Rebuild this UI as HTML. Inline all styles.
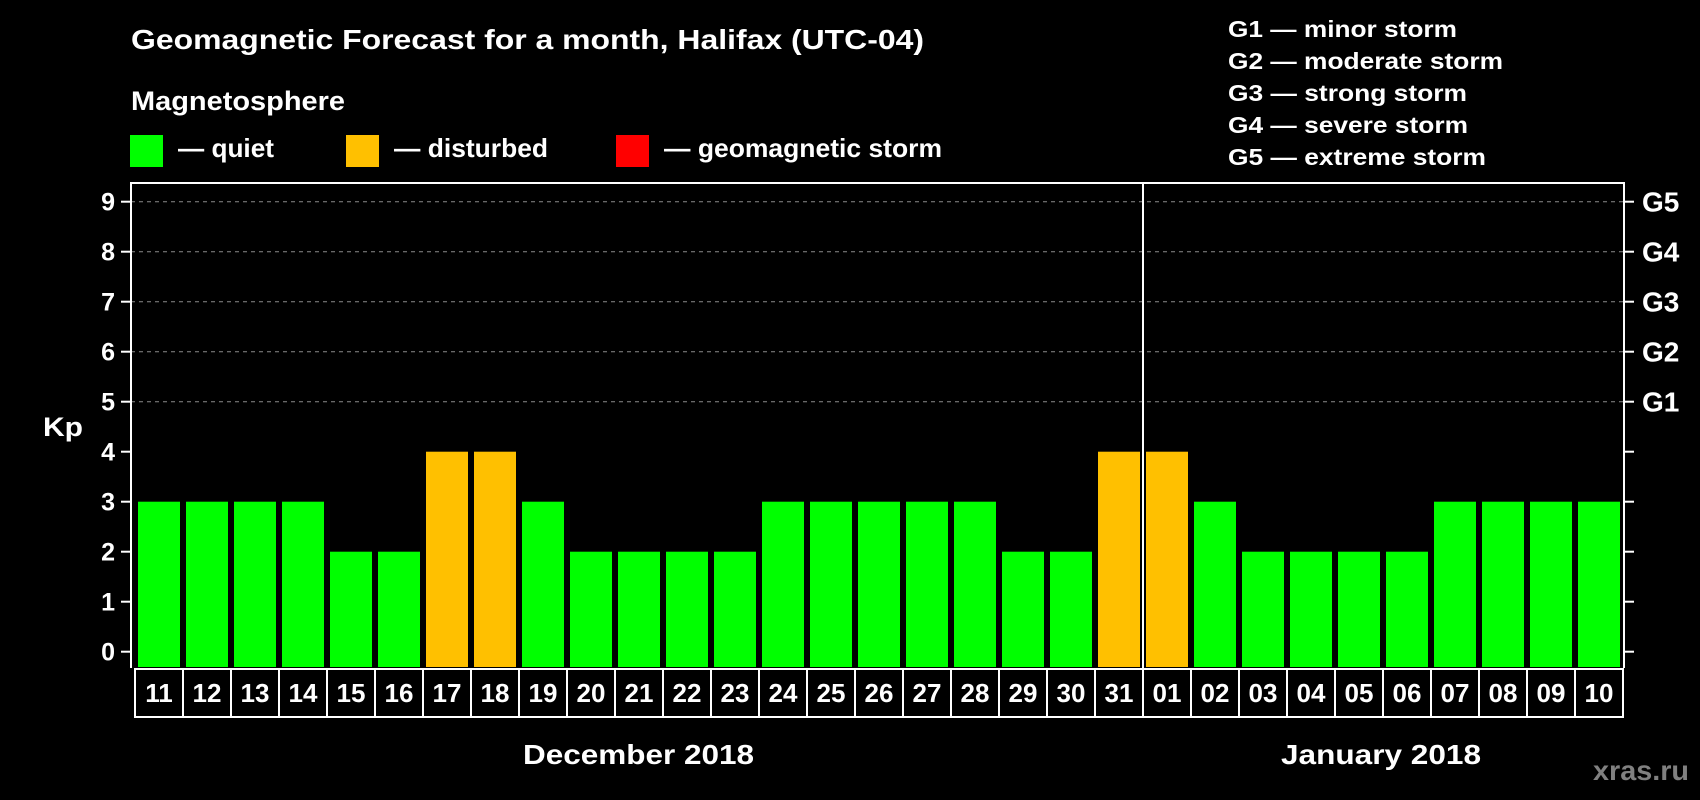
<!DOCTYPE html>
<html><head><meta charset="utf-8"><style>
html,body{margin:0;padding:0;background:#000;}
svg{display:block;font-family:"Liberation Sans",Arial,sans-serif;font-weight:bold;}
</style></head><body>
<svg id="chart" width="1700" height="800" viewBox="0 0 1700 800" xmlns="http://www.w3.org/2000/svg">
<rect x="0" y="0" width="1700" height="800" fill="#000"/>
<text x="131" y="49" font-size="28" fill="#fff" textLength="793" lengthAdjust="spacingAndGlyphs">Geomagnetic Forecast for a month, Halifax (UTC-04)</text>
<text x="131" y="110" font-size="27" fill="#fff" textLength="214" lengthAdjust="spacingAndGlyphs">Magnetosphere</text>
<g>
<rect x="130" y="135" width="33" height="32" fill="#00ff00"/>
<text x="178" y="157" font-size="26" fill="#fff" textLength="96" lengthAdjust="spacingAndGlyphs">— quiet</text>
</g>
<g>
<rect x="346" y="135" width="33" height="32" fill="#ffc000"/>
<text x="394" y="157" font-size="26" fill="#fff" textLength="154" lengthAdjust="spacingAndGlyphs">— disturbed</text>
</g>
<g>
<rect x="616" y="135" width="33" height="32" fill="#ff0000"/>
<text x="664" y="157" font-size="26" fill="#fff" textLength="278" lengthAdjust="spacingAndGlyphs">— geomagnetic storm</text>
</g>
<g font-size="23" fill="#fff">
<text x="1228" y="37" textLength="229" lengthAdjust="spacingAndGlyphs">G1 — minor storm</text>
<text x="1228" y="69" textLength="275" lengthAdjust="spacingAndGlyphs">G2 — moderate storm</text>
<text x="1228" y="101" textLength="239" lengthAdjust="spacingAndGlyphs">G3 — strong storm</text>
<text x="1228" y="133" textLength="240" lengthAdjust="spacingAndGlyphs">G4 — severe storm</text>
<text x="1228" y="165" textLength="258" lengthAdjust="spacingAndGlyphs">G5 — extreme storm</text>
</g>
<text x="43" y="436" font-size="27" fill="#fff" textLength="40" lengthAdjust="spacingAndGlyphs">Kp</text>
<g id="grid"></g>
<g id="bars"></g>
<g id="axes"></g>
<g id="xlabels"></g>
<text x="523" y="764" font-size="28" fill="#fff" textLength="231" lengthAdjust="spacingAndGlyphs">December 2018</text>
<text x="1281" y="764" font-size="28" fill="#fff" textLength="200" lengthAdjust="spacingAndGlyphs">January 2018</text>
<text x="1593" y="780" font-size="28" fill="#808080" textLength="96" lengthAdjust="spacingAndGlyphs">xras.ru</text>
</svg>
<script>
const days = ["11","12","13","14","15","16","17","18","19","20","21","22","23","24","25","26","27","28","29","30","31","01","02","03","04","05","06","07","08","09","10"];
const kpValues = [3,3,3,3,2,2,4,4,3,2,2,2,2,3,3,3,3,3,2,2,4,4,3,2,2,2,2,3,3,3,3];
const yTicks = [0,1,2,3,4,5,6,7,8,9];
const gridLevels = [5,6,7,8,9];
const stormLabels = ["G1","G2","G3","G4","G5"];
const monthBreakIndex = 21;

const NS = "http://www.w3.org/2000/svg";
const plotLeft = 131, plotRight = 1624, plotTop = 183, plotBottom = 668;
const slotStart = 135, slotW = 48;
function yScale(v){ return 651.7 - v * 50; }
function xSlot(i){ return slotStart + i * slotW; }
function mk(tag, attrs, parent){ const e = document.createElementNS(NS, tag); for (const k in attrs) e.setAttribute(k, attrs[k]); parent.appendChild(e); return e; }

const grid = document.getElementById('grid');
gridLevels.forEach(v => {
  const l = mk('line', {x1: plotLeft, x2: plotRight, y1: yScale(v), y2: yScale(v), stroke: '#8a8a8a', 'stroke-width': 1, 'stroke-dasharray': '4,4'}, grid);
  
  
});

const bars = document.getElementById('bars');
kpValues.forEach((v, i) => {
  const color = v >= 5 ? '#ff0000' : (v >= 4 ? '#ffc000' : '#00ff00');
  const top = yScale(v);
  const r = mk('rect', {x: xSlot(i) + 3, y: top, width: 42, height: plotBottom - 1 - top, fill: color}, bars);
  
  
});

const axes = document.getElementById('axes');
const frame = mk('path', {d: `M${plotLeft} ${plotBottom} V${plotTop} H${plotRight} V${plotBottom}`, fill: 'none', stroke: '#fff', 'stroke-width': 2}, axes);


const sep = mk('line', {x1: xSlot(monthBreakIndex), x2: xSlot(monthBreakIndex), y1: plotTop, y2: plotBottom, stroke: '#fff', 'stroke-width': 2}, axes);


yTicks.forEach(v => {
  const y = yScale(v);
  mk('line', {x1: 121, x2: plotLeft, y1: y, y2: y, stroke: '#fff', 'stroke-width': 2}, axes);
  mk('line', {x1: plotRight, x2: 1634, y1: y, y2: y, stroke: '#fff', 'stroke-width': 2}, axes);
  const t = mk('text', {x: 115, y: y + 9, 'font-size': 25, fill: '#fff', 'text-anchor': 'end'}, axes);
  t.textContent = String(v);
  
  
  if (v >= 5) {
    const g = mk('text', {x: 1642, y: y + 10, 'font-size': 28, fill: '#fff'}, axes);
    g.textContent = stormLabels[v - 5];
    
    
  }
});

const xl = document.getElementById('xlabels');
const box = mk('rect', {x: slotStart, y: 669, width: slotW * days.length, height: 48, fill: 'none', stroke: '#fff', 'stroke-width': 2}, xl);


days.forEach((d, i) => {
  if (i > 0) mk('line', {x1: xSlot(i), x2: xSlot(i), y1: 669, y2: 717, stroke: '#fff', 'stroke-width': 2}, xl);
  const t = mk('text', {x: xSlot(i) + slotW / 2, y: 702, 'font-size': 26, fill: '#fff', 'text-anchor': 'middle'}, xl);
  t.textContent = d;
  
  
});
</script>
</body></html>
